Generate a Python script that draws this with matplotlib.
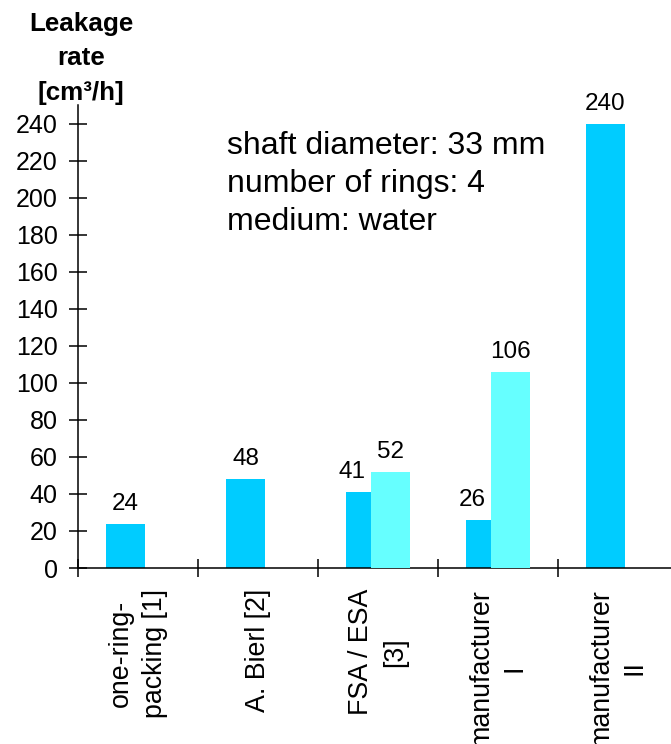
import numpy as np
import matplotlib
matplotlib.use("Agg")
from matplotlib import pyplot as plt

plt.rcParams['font.family'] = ['Liberation Sans', 'DejaVu Sans']

# data
categories = ["one-ring-\npacking [1]", "A. Bierl [2]", "FSA / ESA\n[3]",
              "manufacturer\nI", "manufacturer\nII"]
series1 = [24, 48, 41, 26, 240]
series2 = [None, None, 52, 106, None]
yticks = list(range(0, 241, 20))

dark = "#00CCFF"
light = "#66FFFF"

fig = plt.figure(figsize=(6.71, 7.44), dpi=100)
ax = fig.add_axes([78 / 671, 1 - 568 / 744, 1 - 78 / 671, (568 - 105) / 744])

idx = np.arange(len(categories))
w = 0.325
x1 = idx + 0.396
x2 = idx + 0.604

ax.bar(x1, series1, width=w, color=dark, zorder=2)
m2 = [v is not None for v in series2]
ax.bar(x2[m2], [v for v in series2 if v is not None], width=w, color=light, zorder=3)

# value labels
for i, v in enumerate(series1):
    dx = -9.4 if series2[i] is not None else 0
    ax.annotate(str(v), (x1[i], v), xytext=(dx, 10), textcoords="offset points",
                ha="center", va="baseline", fontsize=17.5)
for i, v in enumerate(series2):
    if v is None:
        continue
    ax.annotate(str(v), (x2[i], v), xytext=(0, 10), textcoords="offset points",
                ha="center", va="baseline", fontsize=17.5)

ax.set_xlim(0, 593 / 120)
ax.set_ylim(0, 250)

for s in ["top", "right"]:
    ax.spines[s].set_visible(False)
for s in ["left", "bottom"]:
    ax.spines[s].set_linewidth(1.1)

ax.set_yticks(yticks)
ax.set_yticklabels([str(t) for t in yticks], fontsize=18)
ax.tick_params(axis="y", direction="inout", length=13, width=1.1, pad=8)

ax.set_xticks(np.arange(len(categories)))
ax.set_xticklabels([])
ax.tick_params(axis="x", which="major", direction="inout", length=13, width=1.1)
ax.set_xticks(idx + 0.5, minor=True)
ax.set_xticklabels(categories, minor=True, rotation=90, fontsize=19.3,
                   va="top", ha="center", multialignment="center", linespacing=1.4)
ax.tick_params(axis="x", which="minor", length=0, pad=15)

ax.text(1.24, 236, "shaft diameter: 33 mm\nnumber of rings: 4\nmedium: water",
        fontsize=23, va="top", ha="left", linespacing=1.35)

fig.text(81 / 671, 1 - 12 / 744, "Leakage\nrate\n[cm³/h]", ha="center", va="top",
         fontsize=18.7, fontweight="bold", linespacing=1.55)

fig.savefig("out.png", dpi=100)
